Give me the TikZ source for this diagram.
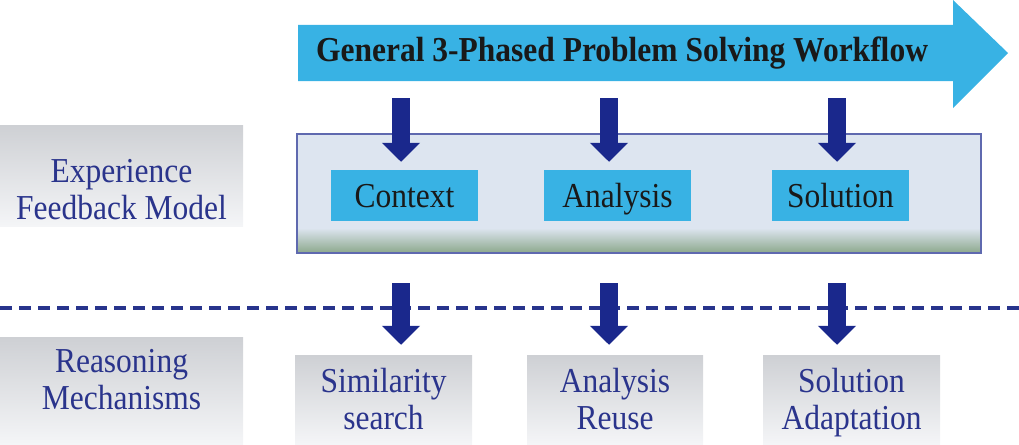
\documentclass[tikz,border=0pt]{standalone}
\usepackage{fontspec}
\setmainfont{Liberation Serif}[FakeStretch=0.9]
\usetikzlibrary{arrows.meta}
\definecolor{skyb}{RGB}{56,178,228}
\definecolor{navy}{RGB}{26,40,140}
\definecolor{navytext}{RGB}{42,52,140}
\definecolor{panel}{RGB}{221,229,240}
\definecolor{panelbd}{RGB}{95,105,175}
\definecolor{panelgreen}{RGB}{140,168,140}
\definecolor{gtop}{RGB}{206,208,212}
\definecolor{gbot}{RGB}{244,245,247}
\definecolor{dashc}{RGB}{40,52,140}
\tikzset{
 graybox/.style={top color=gtop, bottom color=gbot, inner sep=0pt},
 graytext/.style={inner sep=0pt, align=center, text=navytext, font=\fontsize{35}{37}\selectfont},
 phasebox/.style={fill=skyb, inner sep=0pt, minimum height=51, text height=30pt, text depth=7pt, text=black!90, font=\fontsize{35}{37}\selectfont},
 downarrow/.style={navy, line width=18pt, -{Triangle[width=37pt,length=19pt]}},
}
\begin{document}
\begin{tikzpicture}[x=1pt,y=-1pt]
\useasboundingbox (0,0) rectangle (1019,444);
% big workflow arrow
\fill[skyb] (298,25) -- (953,25) -- (953,0) -- (1008,53) -- (953,108) -- (953,81) -- (298,81) -- cycle;
\node[font=\bfseries\fontsize{35}{38}\selectfont, text=black!90, inner sep=0pt] (title) at (622,53) {General 3-Phased Problem Solving Workflow};
% panel
\node[fill=panel, minimum width=684, minimum height=119, inner sep=0pt] (panel) at (639,193.5) {};
\shade[top color=panel, bottom color=panelgreen] (297,228) rectangle (981,253);
\draw[panelbd, line width=1.5pt] (panel.north west) rectangle (panel.south east);
% phase boxes
\node[phasebox, minimum width=147] (ctx) at (404.5,195.5) {Context};
\node[phasebox, minimum width=147] (ana) at (617.5,195.5) {Analysis};
\node[phasebox, minimum width=137] (sol) at (840.5,195.5) {Solution};
% left boxes
\node[graybox, minimum width=243, minimum height=101] (efm) at (121.5,175.5) {};
\node[graytext] (efmt) at (121.5,194) {Experience\strut\\Feedback Model\strut};
\node[graybox, minimum width=243, minimum height=107] (rm) at (121.5,390.5) {};
\node[graytext] (rmt) at (121.5,384) {Reasoning\strut\\Mechanisms\strut};
% lower boxes
\node[graybox, minimum width=177, minimum height=89] (sim) at (383.5,399.5) {};
\node[graytext] (simt) at (383.5,404) {Similarity\strut\\search\strut};
\node[graybox, minimum width=176, minimum height=89] (reu) at (615,399.5) {};
\node[graytext] (reut) at (615,404) {Analysis\strut\\Reuse\strut};
\node[graybox, minimum width=177, minimum height=89] (ada) at (851.5,399.5) {};
\node[graytext] (adat) at (851.5,404) {Solution\strut\\Adaptation\strut};
% dashed separator
\coordinate (dl) at (0,308);
\coordinate (dr) at (1019,308);
\draw[dashc, line width=4pt, dash pattern=on 12pt off 7pt] (dl) -- (dr);
% arrows
\coordinate (u1) at (401,98);
\coordinate (u2) at (609,98);
\coordinate (u3) at (837,98);
\coordinate (l1) at (401,283);
\coordinate (l2) at (609,283);
\coordinate (l3) at (837,283);
\draw[downarrow, shorten >=8pt] (u1) -- (u1 |- ctx.north);
\draw[downarrow, shorten >=8pt] (u2) -- (u2 |- ana.north);
\draw[downarrow, shorten >=8pt] (u3) -- (u3 |- sol.north);
\draw[downarrow, shorten >=10pt] (l1) -- (l1 |- sim.north);
\draw[downarrow, shorten >=10pt] (l2) -- (l2 |- reu.north);
\draw[downarrow, shorten >=10pt] (l3) -- (l3 |- ada.north);
\end{tikzpicture}
\end{document}
